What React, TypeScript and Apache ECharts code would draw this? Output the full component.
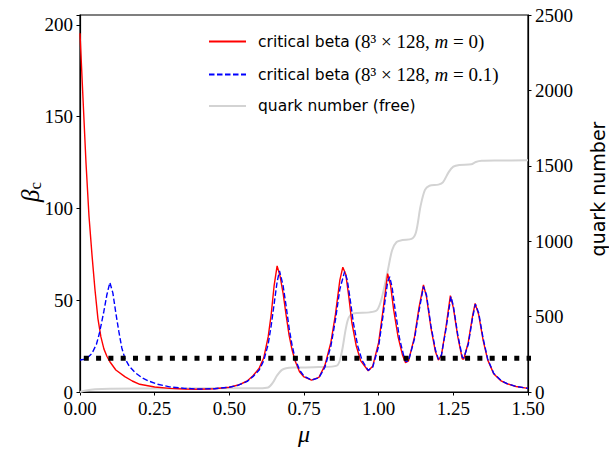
import React, { useEffect, useRef } from "react";
import * as echarts from "echarts";

// critical beta, 8^3 x 128, m = 0
const muM0 = [0, 0.01, 0.02, 0.03, 0.04, 0.05, 0.06, 0.07, 0.08, 0.09, 0.1, 0.12, 0.15, 0.175, 0.2, 0.25, 0.3, 0.35, 0.4, 0.45, 0.5, 0.53, 0.56, 0.58, 0.6, 0.615, 0.63, 0.64, 0.65, 0.66, 0.67, 0.68, 0.69, 0.7, 0.71, 0.72, 0.735, 0.75, 0.775, 0.8, 0.82, 0.84, 0.855, 0.87, 0.88, 0.89, 0.9, 0.91, 0.925, 0.94, 0.965, 0.98, 1.0, 1.015, 1.03, 1.04, 1.05, 1.065, 1.08, 1.09, 1.1, 1.12, 1.135, 1.15, 1.16, 1.175, 1.19, 1.2, 1.21, 1.225, 1.24, 1.25, 1.265, 1.28, 1.285, 1.3, 1.315, 1.323, 1.335, 1.35, 1.365, 1.385, 1.41, 1.43, 1.46, 1.5];
const betaM0 = [195.5, 160, 125, 96, 75, 56, 40, 30, 23.5, 19.5, 16.5, 12, 8.4, 6, 4.2, 2.7, 2, 1.6, 1.5, 1.8, 2.6, 3.8, 6, 9, 13, 18.5, 30, 42, 58, 68.7, 63, 53.8, 42, 31, 23, 17, 11, 8.2, 6.5, 8, 14.5, 27, 42, 61, 68, 64, 52, 38, 25, 17, 11.6, 14, 27, 45, 64.5, 58, 45, 30, 20, 16, 17, 30, 46, 58.3, 52, 35, 22, 17.4, 20, 35, 52.5, 46, 30, 18, 18, 27, 42, 48.3, 42, 28, 17.5, 10, 6, 4.5, 3, 2];

// critical beta, 8^3 x 128, m = 0.1
const muM01 = [0, 0.02, 0.04, 0.055, 0.065, 0.08, 0.09, 0.1, 0.11, 0.12, 0.13, 0.14, 0.15, 0.165, 0.185, 0.21, 0.23, 0.26, 0.3, 0.35, 0.4, 0.45, 0.5, 0.53, 0.56, 0.58, 0.6, 0.615, 0.63, 0.64, 0.65, 0.66, 0.668, 0.68, 0.69, 0.7, 0.71, 0.72, 0.735, 0.75, 0.775, 0.8, 0.82, 0.84, 0.855, 0.87, 0.886, 0.895, 0.905, 0.915, 0.93, 0.945, 0.965, 0.98, 1.0, 1.015, 1.03, 1.037, 1.045, 1.055, 1.07, 1.085, 1.092, 1.1, 1.12, 1.135, 1.15, 1.16, 1.175, 1.19, 1.2, 1.21, 1.225, 1.242, 1.25, 1.265, 1.28, 1.285, 1.3, 1.315, 1.324, 1.335, 1.35, 1.365, 1.385, 1.41, 1.43, 1.46, 1.5];
const betaM01 = [17.4, 18, 21, 26, 32, 44, 53, 59.6, 54, 43, 33, 24, 18.5, 14, 10.5, 7.5, 6, 4.2, 2.8, 2, 1.6, 1.8, 2.6, 3.7, 5.8, 8.5, 12, 17, 26, 36, 48, 60, 66, 58, 47, 35, 25.5, 18.5, 12, 8.6, 6.5, 7.7, 13.5, 25, 39, 56, 65.6, 61, 50, 38, 25, 17, 11.8, 13.5, 25, 42, 60, 62.8, 57, 45, 29, 19, 16.5, 17, 29, 44, 57.5, 53, 36, 23, 17.8, 20, 34, 52, 47, 31, 19, 18.5, 26, 41, 47.8, 43, 29, 18, 10.2, 6.2, 4.6, 3, 2];

// quark number (free)
const muQ = [0, 0.02, 0.05, 0.1, 0.3, 0.6, 0.63, 0.645, 0.66, 0.675, 0.69, 0.72, 0.8, 0.86, 0.875, 0.89, 0.9, 0.915, 0.97, 0.995, 1.01, 1.03, 1.045, 1.06, 1.08, 1.11, 1.125, 1.14, 1.155, 1.17, 1.2, 1.215, 1.235, 1.25, 1.27, 1.31, 1.325, 1.345, 1.4, 1.5];
const quarkN = [0, 10, 18, 22, 24, 25, 30, 60, 110, 145, 158, 162, 165, 175, 250, 420, 495, 520, 528, 545, 620, 800, 940, 995, 1008, 1015, 1060, 1230, 1340, 1368, 1375, 1390, 1460, 1495, 1506, 1510, 1525, 1533, 1535, 1536];

// reference line
const refMu = [-0.0285, 1.57];
const refBeta = 18.4;

const xTicks = [0, 0.25, 0.5, 0.75, 1.0, 1.25, 1.5];
const leftTicks = [0, 50, 100, 150, 200];
const rightTicks = [0, 500, 1000, 1500, 2000, 2500];

const NAME_M0 = "critical beta (8³ × 128, m = 0)";
const NAME_M01 = "critical beta (8³ × 128, m = 0.1)";
const NAME_Q = "quark number (free)";

const SERIF = "'Liberation Serif', 'DejaVu Serif', serif";
const SANS = "'DejaVu Sans', sans-serif";

export default function App() {
  const ref = useRef<HTMLDivElement>(null);
  useEffect(() => {
    if (!ref.current) return;
    const chart = echarts.init(ref.current, null, { renderer: "svg" });
    const zip = (a: number[], b: number[]) => a.map((v, i) => [v, b[i]]);
    const axisCommon = {
      axisLine: { show: true, lineStyle: { color: "#000", width: 1.2 } },
      axisTick: { show: true, inside: false, length: 3.5, lineStyle: { color: "#000", width: 1 } },
      splitLine: { show: false },
    };
    const labelFont = { fontFamily: SERIF, fontSize: 19, lineHeight: 15, color: "#000" };
    chart.setOption({
      animation: false,
      backgroundColor: "#fff",
      grid: { left: 80, right: 81, top: 15, bottom: 57, show: true, borderColor: "#000", borderWidth: 1.2, backgroundColor: "transparent" },
      legend: {
        orient: "vertical",
        left: 203,
        top: 27,
        itemWidth: 37,
        itemHeight: 14,
        itemGap: 14,
        itemStyle: { opacity: 0, borderWidth: 0 },
        data: [NAME_M0, NAME_M01, NAME_Q],
        formatter: (name: string) => {
          if (name === NAME_M0) return "{s|critical beta }{r|(8³ × 128, }{i|m}{r| = 0)}";
          if (name === NAME_M01) return "{s|critical beta }{r|(8³ × 128, }{i|m}{r| = 0.1)}";
          return "{s|quark number (free)}";
        },
        textStyle: {
          padding: [0, 0, 0, 7],
          rich: {
            s: { fontFamily: SANS, fontSize: 15.5, color: "#000" },
            r: { fontFamily: SERIF, fontSize: 19, color: "#000" },
            i: { fontFamily: SERIF, fontSize: 19, fontStyle: "italic", color: "#000" },
          },
        },
      },
      xAxis: {
        type: "value",
        min: 0,
        max: 1.5,
        interval: 0.25,
        ...axisCommon,
        axisLabel: {
          margin: 9,
          ...labelFont,
          formatter: (v: number) => (xTicks.some((t) => Math.abs(t - v) < 1e-9) ? v.toFixed(2) : ""),
        },
      },
      yAxis: [
        {
          type: "value",
          min: 0,
          max: 205.4,
          interval: 50,
          position: "left",
          ...axisCommon,
          axisLabel: {
            margin: 7,
            ...labelFont,
            formatter: (v: number) => (leftTicks.includes(v) ? String(v) : ""),
          },
        },
        {
          type: "value",
          min: 0,
          max: 2500,
          interval: 500,
          position: "right",
          ...axisCommon,
          axisLabel: {
            margin: 7,
            ...labelFont,
            formatter: (v: number) => (rightTicks.includes(v) ? String(v) : ""),
          },
        },
      ],
      graphic: [
        {
          type: "text",
          x: 30,
          y: 192,
          rotation: Math.PI / 2,
          style: {
            text: "{b|β}{c|c}",
            align: "center",
            verticalAlign: "middle",
            rich: {
              b: { fontFamily: SERIF, fontSize: 25, fontStyle: "italic", fill: "#000", lineHeight: 28 },
              c: { fontFamily: SERIF, fontSize: 17, fill: "#000", verticalAlign: "bottom", lineHeight: 28, padding: [10, 0, 0, 0] },
            },
          },
        },
        {
          type: "text",
          x: 598,
          y: 189,
          rotation: Math.PI / 2,
          style: { text: "quark number", fontFamily: SANS, fontSize: 19, fill: "#000", align: "center", verticalAlign: "middle" },
        },
        {
          type: "text",
          x: 304,
          y: 434,
          style: { text: "μ", fontFamily: SERIF, fontSize: 24, fontStyle: "italic", fill: "#000", align: "center", verticalAlign: "middle" },
        },
      ],
      series: [
        {
          name: NAME_Q,
          type: "line",
          yAxisIndex: 1,
          data: zip(muQ, quarkN),
          showSymbol: false,
          symbol: "none",
          smooth: 0.3,
          lineStyle: { color: "#d3d3d3", width: 2 },
          itemStyle: { color: "#d3d3d3" },
          z: 1,
        },
        {
          name: NAME_M0,
          type: "line",
          yAxisIndex: 0,
          data: zip(muM0, betaM0),
          showSymbol: false,
          symbol: "none",
          lineStyle: { color: "#ff0000", width: 1.4 },
          itemStyle: { color: "#ff0000" },
          z: 2,
        },
        {
          name: NAME_M01,
          type: "line",
          yAxisIndex: 0,
          data: zip(muM01, betaM01),
          showSymbol: false,
          symbol: "none",
          lineStyle: { color: "#0000ff", width: 1.4, type: [5.5, 2.5] },
          itemStyle: { color: "#0000ff" },
          z: 3,
        },
        {
          name: "reference",
          type: "line",
          yAxisIndex: 0,
          data: refMu.map((m) => [m, refBeta]),
          showSymbol: false,
          symbol: "none",
          clip: false,
          lineStyle: { color: "#000", width: 5, type: [5, 7.3], cap: "butt" },
          z: 4,
        },
      ],
    });
    return () => chart.dispose();
  }, []);
  return <div ref={ref} style={{ position: "absolute", left: 0, top: 0, width: 609, height: 449 }} />;
}
